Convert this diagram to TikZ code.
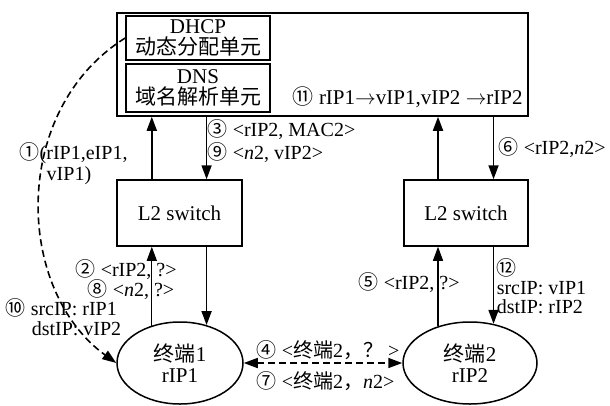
\documentclass[tikz,border=0pt]{standalone}
\usepackage{fontspec}
\setmainfont{Liberation Serif}
\newfontfamily\cjk{Noto Sans CJK SC}
\usetikzlibrary{arrows.meta,shapes.geometric}
\newcommand{\cnum}[1]{{\cjk #1}}

\begin{document}
\begin{tikzpicture}[x=1pt, y=-1pt, line width=1.5pt,
    font=\fontsize{21}{21}\selectfont,
    box/.style={draw, inner sep=0pt, align=center},
    term/.style={draw, ellipse, inner sep=0pt, align=center},
    arr/.style={-{Triangle[length=14pt,width=10pt]}, line width=1.8pt},
    darr/.style={{Triangle[length=14pt,width=10pt]}-{Triangle[length=14pt,width=10pt]}},
    dsh/.style={dash pattern=on 7pt off 4pt, line width=1.6pt},
    lbl/.style={anchor=west, inner sep=0pt, align=left, font=\fontsize{20}{21}\selectfont}]
  \useasboundingbox (0,0) rectangle (610,405);
  % controller with DHCP and DNS units
  \node[box, minimum width=411pt, minimum height=103pt] (ctrl) at (322.5,64.5) {};
  \node[box, minimum width=144pt, minimum height=44pt] (dhcp) at (198,38) {DHCP\\{\cjk 动态分配单元}};
  \node[box, minimum width=144pt, minimum height=48pt] (dns) at (198,88) {DNS\\{\cjk 域名解析单元}};
  \node[lbl, font=\fontsize{21}{21}\selectfont] (l11) at (292,97) {\cnum{⑪} rIP1$\rightarrow$vIP1,vIP2 $\rightarrow$rIP2};
  % switches
  \node[box, minimum width=125pt, minimum height=66pt] (sw1) at (179.5,213) {L2 switch};
  \node[box, minimum width=124pt, minimum height=66pt] (sw2) at (466,213) {L2 switch};
  % terminals
  \node[term, minimum width=126pt, minimum height=82pt] (t1) at (180,363) {{\cjk 终端}1\\rIP1};
  \node[term, minimum width=134pt, minimum height=82pt] (t2) at (470,363) {{\cjk 终端}2\\rIP2};
  % left side
  \draw[arr] (t1.127 |- sw1.north) -- (t1.127 |- ctrl.south);
  \draw[arr] (t1.55 |- ctrl.south) -- (t1.55 |- sw1.north);
  \draw[arr, line width=1.2pt] (t1.127) -- (t1.127 |- sw1.south);
  \draw[arr] (t1.55 |- sw1.south) -- (t1.55);
  % right side
  \draw[arr] (t2.131 |- sw2.north) -- (t2.131 |- ctrl.south);
  \draw[arr] (t2.59 |- ctrl.south) -- (t2.59 |- sw2.north);
  \draw[arr, line width=1.2pt] (t2.131) -- (t2.131 |- sw2.south);
  \draw[arr] (t2.59 |- sw2.south) -- (t2.59);
  % address assignment and terminal exchange
  \draw[arr, dsh] (dhcp.west) .. controls (10,110) and (15,290) .. (t1.west);
  \draw[darr, dsh] (t1.east) -- (t2.west);
  % labels
  \node[lbl] (l1) at (19,164) {\cnum{①}(rIP1,eIP1,\\\hspace*{27pt}vIP1)};
  \node[lbl] (l3) at (207,130) {\cnum{③} <rIP2, MAC2>};
  \node[lbl] (l9) at (207,153) {\cnum{⑨} <\textit{n}2, vIP2>};
  \node[lbl] (l6) at (498,148) {\cnum{⑥} <rIP2,\textit{n}2>};
  \node[lbl] (l2) at (75,270) {\cnum{②} <rIP2, ?>};
  \node[lbl] (l8) at (87,290) {\cnum{⑧} <\textit{n}2, ?>};
  \node[lbl] (l5) at (358,283) {\cnum{⑤} <rIP2, ?>};
  \node[lbl, font=\fontsize{20}{19}\selectfont] (l12) at (496,286) {\cnum{⑫}\\srcIP: vIP1\\dstIP: rIP2};
  \node[lbl, font=\fontsize{20}{19.5}\selectfont] (l10) at (5,317) {\cnum{⑩} srcIP: rIP1\\\hspace*{26pt}dstIP: vIP2};
  \node[lbl] (l4) at (256,350) {\cnum{④} <{\cjk 终端}2{\cjk ，？} >};
  \node[lbl] (l7) at (256,381) {\cnum{⑦} <{\cjk 终端}2{\cjk ，}\textit{n}2>};
\end{tikzpicture}
\end{document}
